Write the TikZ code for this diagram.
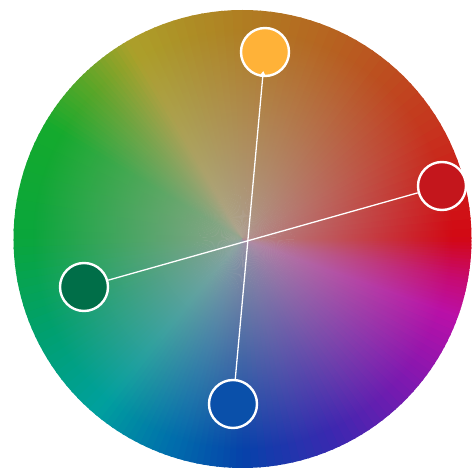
\documentclass[tikz,border=0pt]{standalone}
\usepackage{xcolor}
\usepackage{tikz}
\usetikzlibrary{arrows.meta, positioning, calc, fadings}
\definecolor{hue000}{RGB}{210,8,20}
\definecolor{hue030}{RGB}{198,52,30}
\definecolor{hue060}{RGB}{184,92,32}
\definecolor{hue090}{RGB}{176,126,34}
\definecolor{hue120}{RGB}{172,160,42}
\definecolor{hue135}{RGB}{90,166,40}
\definecolor{hue150}{RGB}{20,170,45}
\definecolor{hue180}{RGB}{10,166,60}
\definecolor{hue205}{RGB}{0,160,110}
\definecolor{hue230}{RGB}{0,160,158}
\definecolor{hue250}{RGB}{0,112,172}
\definecolor{hue270}{RGB}{6,66,170}
\definecolor{hue295}{RGB}{60,40,176}
\definecolor{hue320}{RGB}{130,24,176}
\definecolor{hue340}{RGB}{186,16,168}
\definecolor{hue350}{RGB}{200,10,110}
\definecolor{hubgray}{RGB}{172,164,162}
\definecolor{pickorange}{RGB}{255,178,56}
\definecolor{pickred}{RGB}{196,22,28}
\definecolor{pickgreen}{RGB}{0,110,72}
\definecolor{pickblue}{RGB}{10,80,170}
\tikzfading[name=hubfade, inner color=transparent!15, outer color=transparent!100]

\begin{document}
\begin{tikzpicture}[x=1pt, y=1pt, >=Stealth,
      handle/.style={circle, draw=white, line width=2.4pt, minimum size=48pt,
                     inner sep=0pt},
      link/.style={white, line width=1.3pt}]

    \useasboundingbox (0,0) rectangle (472,472);
    \coordinate (C) at (242.5,233);

    % hue ring, each sector split into small wedges
    \foreach \sa/\ea/\ca/\cb in {0/30/hue000/hue030, 30/60/hue030/hue060,
        60/90/hue060/hue090, 90/120/hue090/hue120, 120/135/hue120/hue135,
        135/150/hue135/hue150, 150/180/hue150/hue180, 180/205/hue180/hue205,
        205/230/hue205/hue230, 230/250/hue230/hue250, 250/270/hue250/hue270,
        270/295/hue270/hue295, 295/320/hue295/hue320, 320/340/hue320/hue340,
        340/350/hue340/hue350, 350/360/hue350/hue000}{
      \foreach \k in {0,...,11}{
        \pgfmathsetmacro\a{\sa+(\ea-\sa)*\k/12}
        \pgfmathsetmacro\b{\sa+(\ea-\sa)*(\k+1)/12+0.5}
        \pgfmathtruncatemacro\p{100*(\k+0.5)/12}
        \fill[\cb!\p!\ca] (C) -- ++(\a:229) arc[start angle=\a, end angle=\b,
                                                radius=229pt] -- cycle;
      }
    }

    % greyish hub
    \begin{scope}
      \clip (C) circle[radius=229pt];
      \fill[hubgray, path fading=hubfade] (C) circle[radius=210pt];
    \end{scope}

    \node[handle, fill=pickorange] (top)    at (265,420) {};
    \node[handle, fill=pickred]    (right)  at (442,286) {};
    \node[handle, fill=pickgreen]  (left)   at (84,185)  {};
    \node[handle, fill=pickblue]   (bottom) at (233,68)  {};

    \draw[link, -{Triangle[width=6pt, length=5pt]}, shorten >=-6pt] (bottom) -- (top);
    \draw[link] (left) -- (right);
  \end{tikzpicture}
\end{document}
